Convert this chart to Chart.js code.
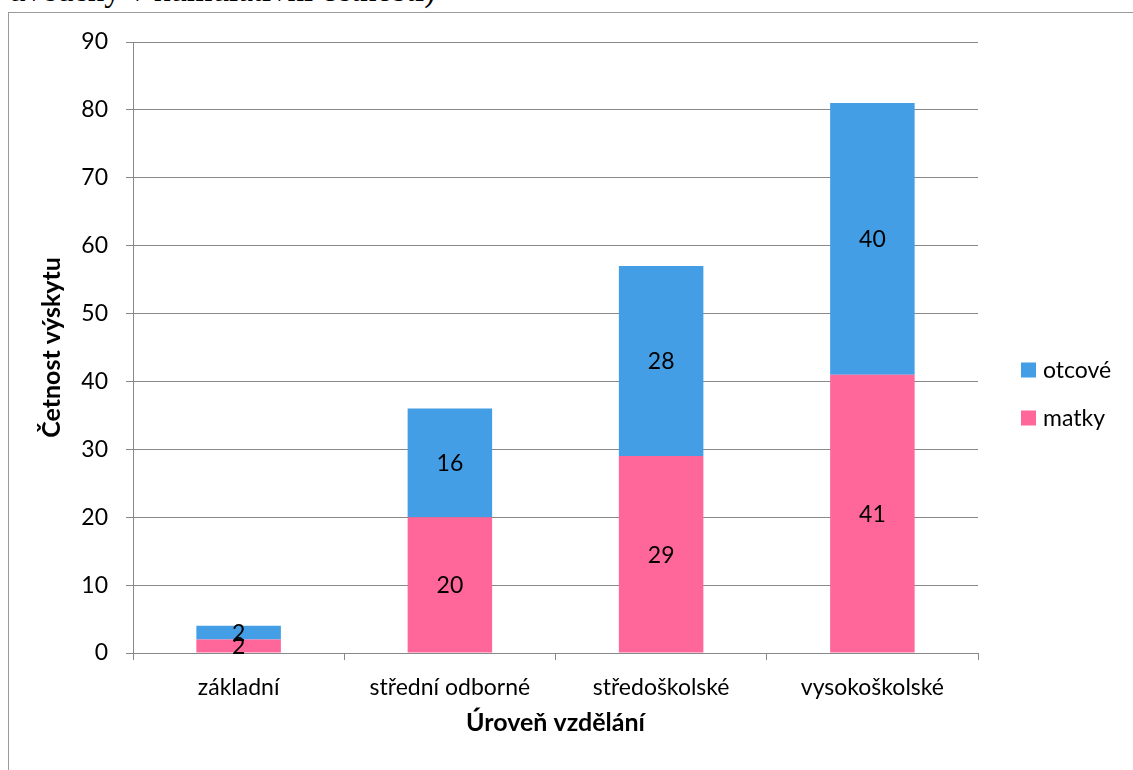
<!DOCTYPE html>
<html>
<head>
<meta charset="utf-8">
<script src="https://cdn.jsdelivr.net/npm/chart.js@4.4.1/dist/chart.umd.min.js"></script>
<style>
    html, body { margin: 0; padding: 0; background: #fff; overflow: hidden; }
    #wrap { position: relative; width: 1133px; height: 770px; overflow: hidden; }
    #note {
        position: absolute; left: 9px; top: -26px;
        font: 33px "Liberation Serif", "Times New Roman", serif;
        line-height: 33px; white-space: nowrap; color: #000;
    }
    #frame {
        position: absolute; left: 8px; top: 12px; width: 1125px; height: 800px;
        box-sizing: border-box; border: 1px solid #9a9a9a; border-right: none; border-bottom: none;
        background: #fff;
    }
    #chart { position: absolute; left: 0; top: 0; }
</style>
</head>
<body>
<div id="wrap">
    <div id="note">uvedeny v kumulativní četnosti)</div>
    <div id="frame"></div>
    <canvas id="chart" width="1133" height="770"></canvas>
</div>
<script>
// data
const categories = ['základní', 'střední odborné', 'středoškolské', 'vysokoškolské'];
const matky = [2, 20, 29, 41];
const otcove = [2, 16, 28, 40];
const yTicks = [0, 10, 20, 30, 40, 50, 60, 70, 80, 90];

const FONT = 'Lato, "Noto Sans", sans-serif';
const SIZE = 23;
const GRID = '#888888';

// numbers in the middle of every stacked segment
const segmentLabels = {
    id: 'segmentLabels',
    afterDatasetsDraw(chart) {
        const ctx = chart.ctx;
        ctx.save();
        ctx.font = SIZE + 'px ' + FONT;
        ctx.fillStyle = '#000';
        ctx.textAlign = 'center';
        ctx.textBaseline = 'middle';
        chart.data.datasets.forEach((ds, i) => {
            chart.getDatasetMeta(i).data.forEach((bar, j) => {
                const { x, y, base } = bar.getProps(['x', 'y', 'base'], true);
                ctx.fillText(String(ds.data[j]), x, (y + base) / 2 + 1);
            });
        });
        ctx.restore();
    }
};

// legend on the right, top series first
const sideLegend = {
    id: 'sideLegend',
    afterDraw(chart) {
        const ctx = chart.ctx;
        const left = chart.chartArea.right + 43;
        let y = 370;
        ctx.save();
        ctx.font = SIZE + 'px ' + FONT;
        ctx.textBaseline = 'middle';
        chart.data.datasets.slice().reverse().forEach(ds => {
            ctx.fillStyle = ds.backgroundColor;
            ctx.fillRect(left, y - 7.5, 15, 15);
            ctx.fillStyle = '#000';
            ctx.fillText(ds.label, left + 22, y + 1);
            y += 48;
        });
        ctx.restore();
    }
};

new Chart(document.getElementById('chart'), {
    type: 'bar',
    data: {
        labels: categories,
        datasets: [
            { label: 'matky', data: matky, backgroundColor: '#FF6699' },
            { label: 'otcové', data: otcove, backgroundColor: '#439EE5' }
        ]
    },
    options: {
        responsive: false,
        animation: false,
        devicePixelRatio: 1,
        layout: { padding: { left: 0, top: 42, right: 155, bottom: 0 } },
        datasets: { bar: { barPercentage: 0.8, categoryPercentage: 0.5 } },
        plugins: { legend: { display: false }, tooltip: { enabled: false } },
        scales: {
            x: {
                stacked: true,
                afterFit(scale) { scale.height = 117; },
                grid: { offset: true, drawOnChartArea: false, drawTicks: true, tickLength: 7, color: GRID },
                border: { display: true, color: GRID, width: 1 },
                ticks: { color: '#000', padding: 14, font: { family: FONT, size: SIZE } },
                title: { display: true, text: 'Úroveň vzdělání', color: '#000',
                    font: { family: FONT, size: 25, weight: 'bold' }, padding: { top: 32, bottom: 32 } }
            },
            y: {
                stacked: true,
                min: 0, max: 90,
                afterFit(scale) { scale.width = 133; },
                afterBuildTicks(scale) { scale.ticks = yTicks.map(v => ({ value: v })); },
                grid: { color: GRID, drawTicks: true, tickLength: 7 },
                border: { display: true, color: GRID, width: 1 },
                ticks: { color: '#000', padding: 18, font: { family: FONT, size: SIZE } },
                title: { display: true, text: 'Četnost výskytu', color: '#000',
                    font: { family: FONT, size: 25, weight: 'bold' }, padding: { top: 37, bottom: 37 } }
            }
        }
    },
    plugins: [segmentLabels, sideLegend]
});
</script>
</body>
</html>
